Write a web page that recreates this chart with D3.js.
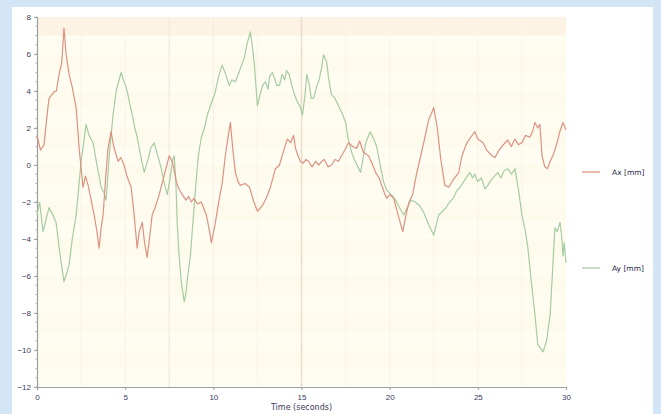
<!DOCTYPE html>
<html><head><meta charset="utf-8">
<script src="https://cdn.jsdelivr.net/npm/d3@7"></script>
<style>
html,body{margin:0;padding:0;background:#d4e5f5;}
svg{display:block;font-family:"DejaVu Sans",Arial,sans-serif;}
</style></head>
<body><svg id="c" width="661" height="414"></svg>
<script>
const seriesNames = ["Ax [mm]", "Ay [mm]"];
const axTime = [0,0.2,0.4,0.55,0.68,0.85,0.97,1.1,1.25,1.4,1.53,1.65,1.82,2.0,2.22,2.39,2.61,2.75,2.9,3.05,3.24,3.4,3.52,3.65,3.75,3.9,4.03,4.2,4.35,4.6,4.75,4.94,5.1,5.34,5.5,5.68,5.8,5.97,6.1,6.25,6.4,6.53,6.7,6.93,7.2,7.5,7.7,7.9,8.05,8.24,8.45,8.6,8.75,8.9,9.1,9.32,9.6,9.75,9.89,10.1,10.34,10.5,10.68,10.85,10.97,11.1,11.25,11.4,11.53,11.8,12.05,12.3,12.5,12.78,13.0,13.24,13.52,13.75,14.03,14.2,14.38,14.55,14.66,14.8,14.94,15.1,15.25,15.4,15.6,15.8,15.97,16.15,16.3,16.5,16.7,16.9,17.1,17.27,17.45,17.67,17.9,18.13,18.3,18.5,18.8,19.0,19.2,19.4,19.55,19.7,19.83,20.0,20.23,20.45,20.74,20.95,21.1,21.3,21.5,21.76,22.0,22.2,22.5,22.7,22.9,23.13,23.35,23.6,23.92,24.1,24.38,24.6,24.83,25.0,25.3,25.5,25.8,25.97,26.2,26.45,26.7,26.9,27.1,27.3,27.5,27.7,27.95,28.1,28.24,28.4,28.52,28.64,28.8,28.95,29.1,29.3,29.49,29.65,29.83,30];
const axVals = [1.6,0.8,1.1,2.5,3.6,3.8,3.95,4.0,4.9,5.5,7.4,6.0,4.9,4.2,3.1,0.9,-1.2,-0.6,-1.1,-1.8,-2.7,-3.6,-4.5,-3.3,-2.7,-0.6,0.9,1.8,1.0,0.2,0.4,0,-0.6,-1.2,-2.6,-4.5,-3.6,-3.1,-4.2,-5.0,-3.8,-2.7,-2.3,-1.6,-0.6,0.5,0.1,-0.9,-1.3,-1.6,-1.9,-1.7,-2.0,-1.8,-2.1,-2.0,-2.7,-3.4,-4.2,-3.2,-1.8,-1.0,0.5,1.6,2.3,0.9,-0.4,-0.9,-1.1,-1.0,-1.2,-2.0,-2.5,-2.2,-1.8,-1.2,-0.2,0,0.9,1.4,1.2,1.6,0.9,0.5,0.2,0.1,0.3,0.2,-0.1,0.2,0,0.2,0.3,-0.1,0,0.3,0.2,0.5,0.8,1.2,1.0,0.9,1.3,0.7,0.5,0.1,-0.4,-0.7,-1.1,-1.5,-1.8,-1.6,-1.8,-2.6,-3.6,-2.6,-2.0,-1.6,-0.6,0.5,1.5,2.4,3.1,2.0,0.3,-1.1,-1.2,-0.8,-0.4,0.5,1.2,1.5,1.8,1.4,1.2,0.8,0.5,0.4,0.8,1.1,1.35,1.0,1.4,1.1,1.2,1.6,1.5,1.8,2.3,2.0,2.2,0.5,-0.1,-0.2,0.2,0.6,1.2,1.8,2.3,1.9];
const ayTime = [0,0.15,0.34,0.5,0.68,0.85,1.08,1.3,1.53,1.7,1.82,2.0,2.22,2.35,2.5,2.65,2.78,2.95,3.18,3.4,3.64,3.8,3.92,4.1,4.3,4.49,4.6,4.77,4.9,5.06,5.2,5.4,5.55,5.68,5.9,6.08,6.3,6.45,6.65,6.85,7.05,7.2,7.39,7.55,7.7,7.78,7.88,7.95,8.05,8.18,8.35,8.45,8.55,8.7,8.85,9.03,9.15,9.32,9.5,9.66,9.8,9.94,10.1,10.3,10.5,10.7,10.9,11.05,11.25,11.45,11.6,11.76,11.9,12.1,12.2,12.33,12.42,12.5,12.65,12.8,12.95,13.1,13.2,13.35,13.5,13.6,13.75,13.9,14.05,14.15,14.3,14.45,14.6,14.77,14.9,15.06,15.2,15.3,15.45,15.55,15.68,15.85,16.0,16.15,16.25,16.42,16.55,16.7,16.9,17.1,17.3,17.5,17.65,17.84,18.0,18.15,18.35,18.5,18.64,18.9,19.1,19.26,19.5,19.65,19.83,20.1,20.34,20.55,20.8,21.0,21.2,21.45,21.7,21.95,22.2,22.35,22.5,22.65,22.78,23.0,23.2,23.4,23.6,23.8,24.0,24.2,24.4,24.55,24.7,24.83,25.0,25.2,25.4,25.57,25.75,25.95,26.14,26.3,26.5,26.7,26.9,27.1,27.3,27.5,27.7,27.84,28.0,28.24,28.4,28.55,28.7,28.9,29.1,29.25,29.37,29.5,29.66,29.75,29.83,29.9,30];
const ayVals = [-2.7,-2.0,-3.6,-3.0,-2.3,-2.6,-3.1,-4.8,-6.3,-5.8,-5.4,-4.0,-2.7,-1.4,0.2,1.2,2.2,1.6,1.2,0.0,-1.2,-1.5,-1.9,0.5,2.6,4.0,4.4,5.0,4.6,4.2,3.6,2.7,2.0,1.5,0.4,-0.4,0.3,0.9,1.2,0.5,-0.2,-0.9,-1.6,-0.7,0.3,0.5,-1.0,-3.1,-4.8,-6.3,-7.4,-6.9,-6.0,-4.9,-3.0,-0.8,0.5,1.5,2.0,2.7,3.1,3.5,3.9,4.8,5.4,4.9,4.3,4.6,4.5,5.0,5.4,5.8,6.5,7.2,6.5,5.4,4.2,3.2,3.8,4.3,4.5,4.1,4.8,5.0,4.6,4.3,4.3,4.9,4.6,5.1,4.9,4.3,3.8,3.4,3.2,2.7,3.8,4.9,4.3,3.6,3.6,4.2,4.6,5.3,5.95,5.6,4.6,3.8,3.6,3.2,2.8,2.3,1.4,0.7,0.3,0.0,-0.4,0.4,1.2,1.8,1.4,1.0,-0.2,-0.9,-1.35,-1.6,-1.9,-2.3,-2.7,-2.3,-1.9,-2.0,-2.2,-2.6,-3.2,-3.5,-3.8,-3.2,-2.7,-2.5,-2.3,-2.0,-1.8,-1.4,-1.2,-0.9,-0.6,-0.4,-0.7,-0.5,-0.9,-0.7,-1.3,-1.1,-0.8,-0.6,-0.4,-0.7,-0.3,-0.2,-0.5,-0.2,-1.3,-2.7,-3.6,-4.5,-6.0,-8.1,-9.7,-9.9,-10.1,-9.5,-8.1,-5.5,-3.4,-3.6,-3.1,-3.8,-4.9,-4.2,-5.3];
const xTicks = [0,5,10,15,20,25,30];
const yTicks = [8,6,4,2,0,-2,-4,-6,-8,-10,-12];
const xTitle = "Time (seconds)";

const svg = d3.select("#c");
const m = {l:37, r:566, t:17, b:387};
svg.append("rect").attr("x",12).attr("y",7).attr("width",641).attr("height",407).attr("fill","#ffffff");

const x = d3.scaleLinear().domain([0,30]).range([m.l,m.r]);
const y = d3.scaleLinear().domain([-12,8]).range([m.b,m.t]);

svg.append("rect").attr("x",m.l).attr("y",m.t).attr("width",m.r-m.l).attr("height",m.b-m.t).attr("fill","#fffbee");
const bands = d3.range(-12,8,1);
svg.selectAll("rect.band").data(bands).join("rect").attr("class","band")
  .attr("x",m.l).attr("width",m.r-m.l)
  .attr("y",d=>y(d+1)).attr("height",d=>y(d)-y(d+1))
  .attr("fill",(d,i)=> d===7 ? "#fdf3e5" : (i%2 ? "#fefaec" : "#fffcf2"));
const vgrid = [2.5,5,7.5,10,12.5,15,17.5,20,22.5,25,27.5];
svg.selectAll("line.vg").data(vgrid).join("line").attr("class","vg")
  .attr("x1",d=>x(d)).attr("x2",d=>x(d)).attr("y1",m.t).attr("y2",m.b)
  .attr("stroke",d=> d===15 ? "#eadcc8" : (d===7.5 ? "#efe6d8" : (d===10 ? "#f3ece0" : "#f9f4e9"))).attr("stroke-width",d=>d===15?1.5:1);

const gx = svg.append("g").attr("transform",`translate(0,${m.b})`)
  .call(d3.axisBottom(x).tickValues(xTicks).tickSize(3).tickFormat(d3.format("d")));
const gy = svg.append("g").attr("transform",`translate(${m.l},0)`)
  .call(d3.axisLeft(y).tickValues(yTicks).tickSize(3).tickFormat(d3.format("d")));
[gx,gy].forEach(g=>{
  g.select(".domain").attr("stroke","#9aa0a0").attr("stroke-width",1.2);
  g.selectAll(".tick line").attr("stroke","#9aa0a0");
  g.selectAll("text").attr("fill","#3a3a5a").attr("font-size",8);
});
gx.selectAll("text").attr("dy","0.9em");
svg.selectAll("line.my").data(d3.range(-12,8.01,0.5)).join("line").attr("class","my")
  .attr("x1",m.l-1.5).attr("x2",m.l).attr("y1",d=>y(d)).attr("y2",d=>y(d)).attr("stroke","#aab0b0");

svg.append("text").attr("x",x(15)).attr("y",410).attr("text-anchor","middle")
  .attr("font-size",8).attr("fill","#3a3a5a").text(xTitle);

const colors = ["#dc9282","#a6cca2"];
const line = d3.line().x(d=>x(d[0])).y(d=>y(d[1]));
const ay = d3.zip(ayTime, ayVals), ax = d3.zip(axTime, axVals);
svg.append("path").datum(ay).attr("d",line).attr("fill","none").attr("stroke",colors[1]).attr("stroke-width",1.2).attr("stroke-linejoin","round");
svg.append("path").datum(ax).attr("d",line).attr("fill","none").attr("stroke",colors[0]).attr("stroke-width",1.2).attr("stroke-linejoin","round");

const legY = [172, 268];
seriesNames.forEach((n,i)=>{
  svg.append("line").attr("x1",582).attr("x2",600).attr("y1",legY[i]).attr("y2",legY[i])
    .attr("stroke",colors[i]).attr("stroke-width",1.3);
  svg.append("text").attr("x",612).attr("y",legY[i]+3).attr("font-size",7.5).attr("fill","#2a2a4a").text(n);
});
</script></body></html>
